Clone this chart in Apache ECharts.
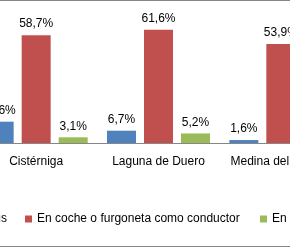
<!DOCTYPE html>
<html>
<head>
<meta charset="utf-8">
<script src="https://cdn.jsdelivr.net/npm/echarts@6/dist/echarts.min.js"></script>
<style>
html,body{margin:0;padding:0;background:#fff;overflow:hidden;width:290px;height:248px;position:relative;}
#c{width:600px;height:248px;position:absolute;left:-150px;top:0;}
</style>
</head>
<body>
<div id="c"></div>
<script>
const categories = ['Cistérniga', 'Laguna de Duero', 'Medina del Campo'];
const seriesNames = ['En autobus', 'En coche o furgoneta como conductor', 'En coche o furgoneta como pasajero'];
const busValues = [11.6, 6.7, 1.6];
const driverValues = [58.7, 61.6, 53.9];
const passengerValues = [3.1, 5.2, 4.8];
const colors = ['#4F81BD', '#C0504D', '#9BBB59'];

const font = 'Liberation Sans, Arial, sans-serif';
const chart = echarts.init(document.getElementById('c'), null, {renderer: 'canvas'});
const fmt = p => p.value.toFixed(1).replace('.', ',') + '%';
const mk = (name, data, color) => ({
  name: name, type: 'bar', data: data, barWidth: 29, barGap: '27.6%',
  itemStyle: {color: color},
  label: {show: true, position: 'top', distance: 5, formatter: fmt,
          color: '#000', fontSize: 12, fontFamily: font},
  animation: false
});
const legendBase = {orient: 'horizontal', padding: 0, itemWidth: 7, itemHeight: 7, icon: 'rect',
  top: 213, textStyle: {color: '#000', fontSize: 12, fontFamily: font}, selectedMode: false};
chart.setOption({
  animation: false,
  grid: {left: 125, width: 367, top: 14.4, height: 128.6, containLabel: false, outerBoundsMode: 'none'},
  xAxis: {type: 'category', data: categories,
    axisLine: {lineStyle: {color: '#868686', width: 1}},
    axisTick: {show: false},
    axisLabel: {margin: 13, color: '#000', fontSize: 12, fontFamily: font, interval: 0}},
  yAxis: {type: 'value', min: 0, max: 70, show: false, splitLine: {show: false}},
  legend: [
    Object.assign({}, legendBase, {data: [seriesNames[0]], right: 443}),
    Object.assign({}, legendBase, {data: [seriesNames[1]], left: 175}),
    Object.assign({}, legendBase, {data: [seriesNames[2]], left: 410})
  ],
  graphic: [{type: 'rect', shape: {x: 140, y: 0.5, width: 310, height: 246}, silent: true,
    style: {fill: 'none', stroke: '#868686', lineWidth: 1}}],
  series: [
    mk(seriesNames[0], busValues, colors[0]),
    mk(seriesNames[1], driverValues, colors[1]),
    mk(seriesNames[2], passengerValues, colors[2])
  ]
});
</script>
</body>
</html>
